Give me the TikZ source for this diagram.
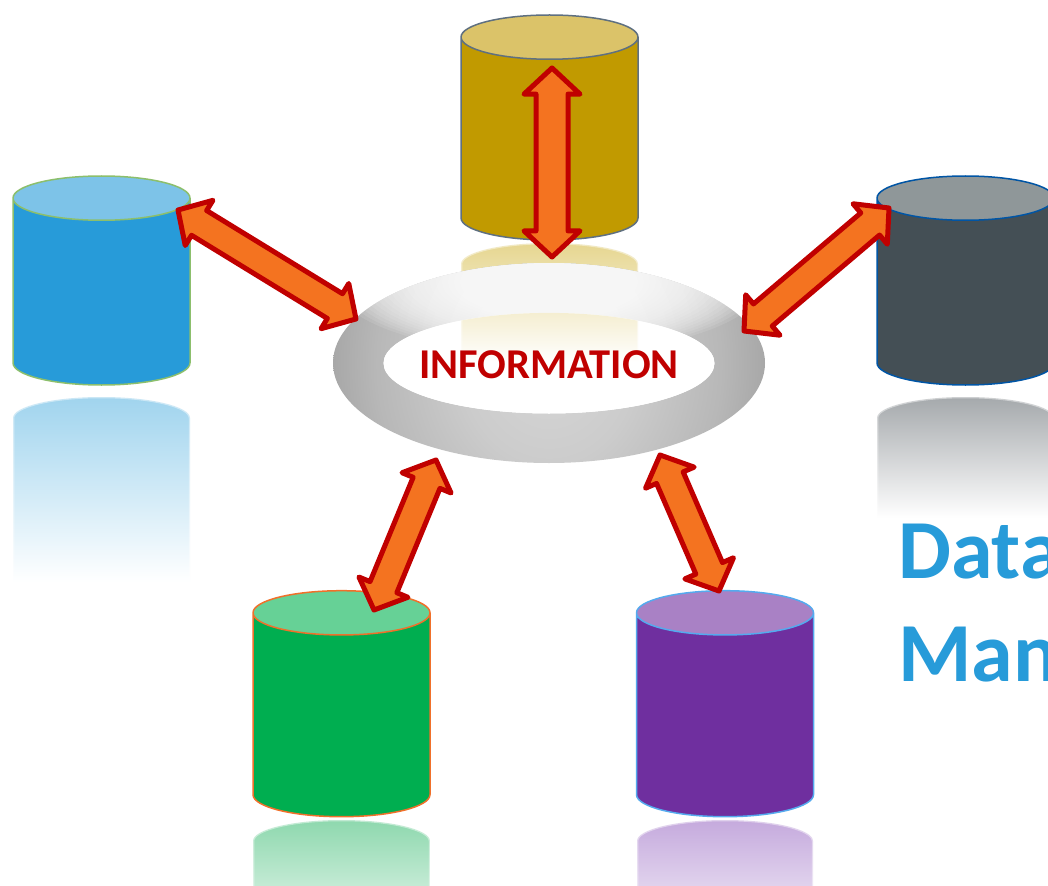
\documentclass[tikz,border=0pt]{standalone}
\usepackage{fontspec}
\setmainfont{Carlito}
\usetikzlibrary{shapes.geometric,shapes.arrows,calc}
\definecolor{cGold}{HTML}{C19A00}\definecolor{cGoldT}{HTML}{DBC369}\definecolor{cGoldL}{HTML}{5F7080}\definecolor{cGoldR}{HTML}{E6D690}
\definecolor{cBlue}{HTML}{279BD9}\definecolor{cBlueT}{HTML}{7DC3E8}\definecolor{cBlueL}{HTML}{8CBF6C}\definecolor{cBlueR}{HTML}{A0D4EE}
\definecolor{cDark}{HTML}{444F55}\definecolor{cDarkT}{HTML}{8F9799}\definecolor{cDarkL}{HTML}{0055A5}\definecolor{cDarkR}{HTML}{A5A9AC}
\definecolor{cGreen}{HTML}{00AE50}\definecolor{cGreenT}{HTML}{66D196}\definecolor{cGreenL}{HTML}{F0702A}\definecolor{cGreenR}{HTML}{8ED8AE}
\definecolor{cPurple}{HTML}{6F2F9F}\definecolor{cPurpleT}{HTML}{A981C5}\definecolor{cPurpleL}{HTML}{55AAEE}\definecolor{cPurpleR}{HTML}{C5AADD}
\definecolor{cArrowF}{HTML}{F47320}\definecolor{cArrowL}{HTML}{C00000}
\pgfdeclareradialshading{ringshade}{\pgfpoint{0bp}{0bp}}{%
  color(0bp)=(white!84!black);color(10bp)=(white!80!black);color(20bp)=(white!72!black);color(36bp)=(white!52!black);color(50bp)=(white!36!black)}
\tikzset{
  dbcyl/.style n args={3}{cylinder,shape border rotate=90,anchor=shape center,draw=#3,line width=1.5pt,
    cylinder uses custom fill,cylinder body fill=#1,cylinder end fill=#2,
    shape aspect=0.25,minimum width=177pt,inner xsep=88.5pt,inner ysep=20pt,outer sep=0pt},
  bigarrow/.style={double arrow,draw=cArrowL,fill=cArrowF,line width=5pt,line join=round,
    inner xsep=0pt,inner ysep=12pt,outer sep=0pt,minimum width=48pt,double arrow head extend=12pt,double arrow tip angle=94},
  goldarrow/.style={inner ysep=13.5pt,minimum width=51pt,double arrow head extend=12pt},
  titletext/.style={inner sep=0pt,anchor=base west,text=cBlue,font=\fontsize{84}{84}\selectfont\bfseries},
  infotext/.style={inner sep=0pt,anchor=base,text=cArrowL,font=\fontsize{42.5}{42.5}\selectfont\bfseries}
}
\newcommand\reflectcyl[5]{% xleft, xright, ytop, yend, colour
  \shade[top color=#5,bottom color=white] (#1,#3+21) arc[start angle=180,end angle=0,x radius={(#2-#1)/2*1pt},y radius=21pt] -- (#2,#4) -- (#1,#4) -- cycle;
  \draw[white,opacity=.45,line width=2.5pt] (#1,#4) -- (#1,#3+21) arc[start angle=180,end angle=0,x radius={(#2-#1)/2*1pt},y radius=21pt] -- (#2,#4);
}
\newcommand\dblarrow[4][]{% style, name, from, to
  \path let \p1=($(#4)-(#3)$),\n1={atan2(\y1,\x1)},\n2={veclen(\x1,\y1)} in
    ($(#3)!.5!(#4)$) node[bigarrow,#1,rotate=\n1,minimum height=\n2] (#2) {};
}
\begin{document}
\begin{tikzpicture}[x=1pt,y=-1pt]
\useasboundingbox (0,0) rectangle (1048,885);
\clip (0,0) rectangle (1048,885);
\fill[white] (0,0) rectangle (1048,885);
% reflections
\reflectcyl{461}{638}{243}{362}{cGoldR}
\reflectcyl{13}{190}{397}{582}{cBlueR}
\reflectcyl{877}{1054}{397}{518}{cDarkR}
\reflectcyl{253}{430}{820}{960}{cGreenR}
\reflectcyl{637}{813}{820}{960}{cPurpleR}
% cylinders
\node[dbcyl={cGold}{cGoldT}{cGoldL},minimum height=225pt] (dbTop) at (549.5,127.5) {};
\node[dbcyl={cBlue}{cBlueT}{cBlueL},minimum height=209pt] (dbLeft) at (101.5,280.5) {};
\node[dbcyl={cDark}{cDarkT}{cDarkL},minimum height=209pt] (dbRight) at (965.5,280.5) {};
\node[dbcyl={cGreen}{cGreenT}{cGreenL},minimum height=226pt] (dbGreen) at (341.5,703.7) {};
\node[dbcyl={cPurple}{cPurpleT}{cPurpleL},minimum height=226pt] (dbPurple) at (725,703.7) {};
% ring
\begin{scope}[even odd rule]
  \clip (549,363) ellipse [x radius=216pt,y radius=100pt] (549,363.2) ellipse [x radius=165.5pt,y radius=50.3pt];
  \shade[shading=ringshade] (549,363) ellipse [x radius=216pt,y radius=250pt];
\end{scope}
\begin{scope}
  \clip (549,363) ellipse [x radius=216pt,y radius=100pt];
  \foreach \k in {0,...,27}{
    \fill[white,opacity=.1] (549,282) ellipse [x radius={(215-6*\k)*1pt},y radius={(72-1.8*\k)*1pt}];
  }
\end{scope}
% inner hole of the ring shows what lies behind it
\begin{scope}
  \clip (549,363.2) ellipse [x radius=165.5pt,y radius=50.3pt];
  \fill[white] (380,300) rectangle (720,420);
  \reflectcyl{461}{638}{243}{362}{cGoldR}
\end{scope}
\node[infotext] (info) at (549,378) {INFORMATION};
\node[titletext] (tData) at (898,578) {Data};
\node[titletext] (tMan) at (898,681) {Man};
% arrow ends
\coordinate (a1) at (552,68); \coordinate (a2) at (552,257);
\coordinate (b1) at (178,210); \coordinate (b2) at (356,319);
\coordinate (c1) at (889,208); \coordinate (c2) at (744,331);
\coordinate (d1) at (436,460); \coordinate (d2) at (374,610);
\coordinate (e1) at (660,455); \coordinate (e2) at (719,591);
\dblarrow[goldarrow]{arrTop}{a1}{a2}
\dblarrow{arrLeft}{b1}{b2}
\dblarrow{arrRight}{c1}{c2}
\dblarrow{arrGreen}{d1}{d2}
\dblarrow{arrPurple}{e1}{e2}
\end{tikzpicture}
\end{document}
